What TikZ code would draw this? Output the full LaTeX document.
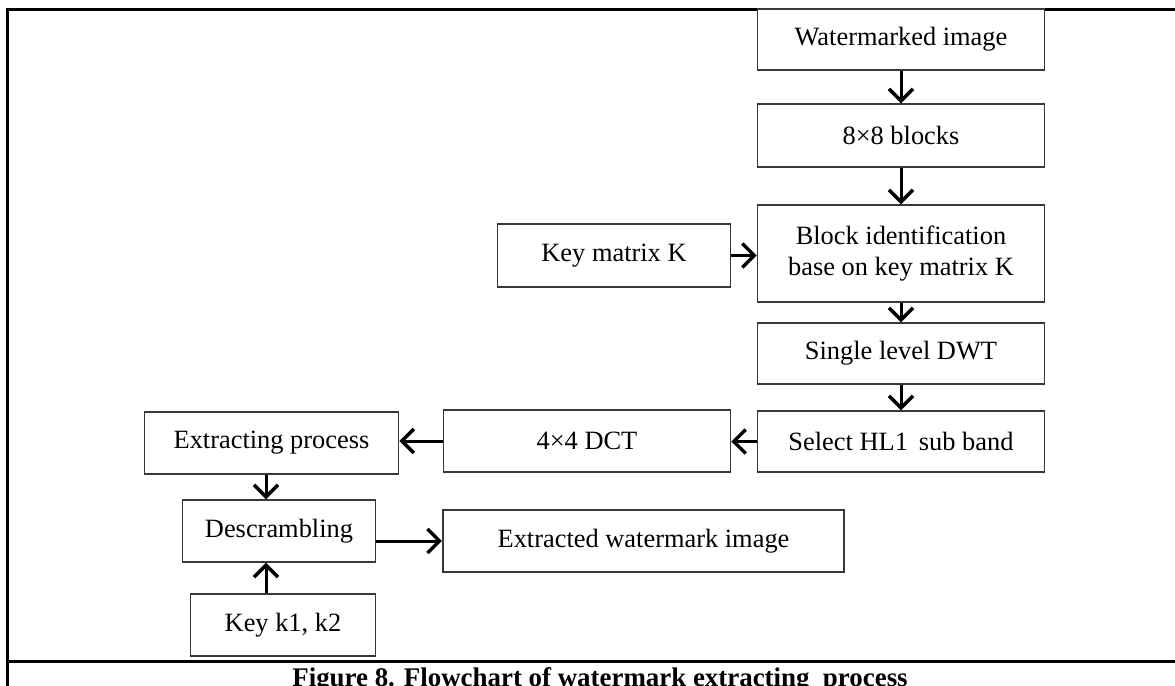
\documentclass[tikz,border=0pt]{standalone}
\usepackage{fontspec}
\setmainfont{Liberation Serif}
\usetikzlibrary{arrows.meta,calc}

\tikzset{
  stepbox/.style={draw=black!78, line width=1.6bp, fill=white, rectangle,
    inner sep=0pt, align=center, font=\fontsize{26.5}{31}\selectfont},
  flow/.style={line width=3bp, -{Straight Barb[length=12bp,width=24bp,line width=3.5bp]}},
  frameline/.style={line width=3bp, black}
}
\newcommand{\stepnode}[6]{%
  % name, left, right, top, bottom, text
  \node[stepbox, minimum width={#3-#2}, minimum height={#5-#4}]
    (#1) at ({(#2+#3)/2},{(#4+#5)/2}) {#6};}

\begin{document}
\begin{tikzpicture}[x=1bp,y=-1bp]
  \useasboundingbox (0,0) rectangle (1175,686);

  % page frame of the figure cell
  \coordinate (ftl) at (7,9.5);
  \coordinate (ftr) at (1175,9.5);
  \coordinate (fbl) at (7,690);
  \coordinate (rl) at (7,661);
  \coordinate (rr) at (1175,661);
  \draw[frameline] (ftl) -- (ftr);
  \draw[frameline] ($(ftl)+(0,-1.5)$) -- (fbl);
  \draw[frameline] (rl) -- (rr);

  % processing steps
  \stepnode{wm}{757}{1045}{9}{70}{Watermarked image}
  \stepnode{blk}{757}{1045}{104}{167}{8×8 blocks}
  \stepnode{bid}{757}{1045}{205}{302}{Block identification\\base on key matrix K}
  \stepnode{keyk}{497}{731}{224}{287}{Key matrix K}
  \stepnode{dwt}{757}{1045}{323}{384}{Single level DWT}
  \stepnode{hl}{757}{1045}{411}{472}{Select HL1 \,sub band}
  \stepnode{dct}{443}{731}{410}{472}{4×4 DCT}
  \stepnode{ext}{144}{399}{412}{474}{Extracting process}
  \stepnode{desc}{182}{376}{500}{562}{Descrambling}
  \stepnode{out}{442}{845}{510}{572}{Extracted watermark image}
  \stepnode{keys}{190}{376}{594}{656}{Key k1, k2}

  % connectors
  \coordinate (lx) at (266,0);
  \draw[flow] (wm) -- (blk);
  \draw[flow] (blk) -- (bid);
  \draw[flow] (keyk.east) -- (keyk.east -| bid.west);
  \draw[flow] (bid) -- (dwt);
  \draw[flow] (dwt) -- (hl);
  \draw[flow] (hl.west) -- (hl.west -| dct.east);
  \draw[flow] (dct.west) -- (dct.west -| ext.east);
  \draw[flow] (ext.south -| lx) -- (desc.north -| lx);
  \draw[flow] (desc.east |- out.west) -- (out.west);
  \draw[flow] (keys.north -| lx) -- (desc.south -| lx);

  % caption
  \node[anchor=base, inner sep=0pt, font=\bfseries\fontsize{27}{30}\selectfont]
    (cap) at (600,686) {Figure 8. Flowchart of watermark extracting \ process};
\end{tikzpicture}
\end{document}
